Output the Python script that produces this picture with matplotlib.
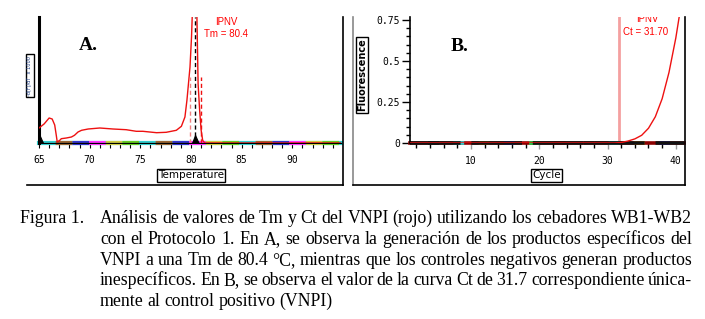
import numpy as np
import matplotlib.pyplot as plt
from matplotlib.lines import Line2D
from matplotlib.ticker import MultipleLocator, FixedLocator

W, H = 705, 319

# ---- panel A: melt curve (derivative, arbitrary units) ----
melt_temp = [65.0, 65.5, 66.0, 66.3, 66.55, 66.7, 66.8, 67.05, 67.2, 67.7, 68.2,
             68.5, 68.85, 69.2, 69.85, 71.0, 72.3, 73.6, 74.6, 75.25, 76.6, 77.55,
             78.55, 79.05, 79.4, 79.6, 79.9, 80.05, 80.2, 80.4, 80.55, 80.7, 80.85,
             81.0, 81.15, 81.35, 82.0, 94.8]
melt_ipnv = [0.15, 0.19, 0.25, 0.24, 0.18, 0.08, 0.01, 0.027, 0.043, 0.05, 0.06,
             0.077, 0.11, 0.127, 0.14, 0.15, 0.14, 0.133, 0.117, 0.117, 0.103, 0.107,
             0.127, 0.167, 0.26, 0.43, 0.76, 1.06, 1.5, 1.9, 1.45, 0.59, 0.33,
             0.127, 0.027, 0.0, 0.0, 0.0]
neg_temp = [65.0, 65.05, 65.4, 80.1, 80.4, 80.75, 94.8]
neg_deriv = [1.3, 0.08, 0.0, 0.0, 0.08, 0.0, 0.0]
tm_ipnv = 80.4
tm_lo, tm_hi = 79.86, 80.99
tm_mark = 0.66
neg_colors_a = ["#33cccc", "#66cc22", "#cccc44", "#ff33ff", "#3333cc", "#996633"]

# ---- panel B: amplification curve ----
cycles = list(range(1, 42))
ipnv_fluor = [0.0] * 31 + [0.003, 0.012, 0.025, 0.047, 0.09, 0.16, 0.27, 0.43, 0.64, 0.9]
ct_ipnv = 31.7
neg_colors_b = ["#cc0000", "#22cc44", "#3333ff", "#ff9900", "#33cccc", "#111111"]

caption_lines = [
    "Análisis de valores de Tm y Ct del VNPI (rojo) utilizando los cebadores WB1-WB2",
    "con el Protocolo 1. En A, se observa la generación de los productos específicos del",
    "VNPI a una Tm de 80.4 °C, mientras que los controles negativos generan productos",
    "inespecíficos. En B, se observa el valor de la curva Ct de 31.7 correspondiente única-",
    "mente al control positivo (VNPI)",
]

tick_font = dict(family="DejaVu Sans Mono", size=7)


def fx(px):
    return px / W


def fy(py):
    return 1 - py / H


fig = plt.figure(figsize=(W / 100, H / 100), dpi=100)

# ---------------- panel A ----------------
axA = fig.add_axes([fx(39), fy(143), fx(341 - 39), (143 - 17) / H])
axA.set_xlim(65, 94.8)
axA.set_ylim(0, 1.26)
zeros_a = np.zeros(2)
for i, c in enumerate(neg_colors_a):
    axA.plot([65, 94.8], zeros_a, color=c, lw=3, clip_on=False,
             linestyle=(i * 4, (4, 4 * (len(neg_colors_a) - 1))) if i else "-")
axA.fill_between(neg_temp, neg_deriv, color="black", lw=0.8, zorder=3)
axA.plot(melt_temp, melt_ipnv, color="#ee1111", lw=1.0, zorder=4)
axA.vlines(tm_ipnv, 0, 1.26, colors="black", linestyles=(0, (3, 2)), lw=1.0, zorder=5)
axA.vlines(tm_lo, 0, tm_mark, colors="#f08080", linestyles=(0, (3, 2)), lw=1.0, zorder=5)
axA.vlines(tm_hi, 0, tm_mark, colors="#ee1111", linestyles=(0, (3, 2)), lw=1.0, zorder=5)
fig.text(fx(226.5), fy(28), "IPNV\nTm = 80.4", ha="center", va="center", color="red",
         fontsize=7, family="Liberation Sans", linespacing=1.15)
for s in ("top", "right", "bottom"):
    axA.spines[s].set_visible(False)
axA.spines["left"].set_color("black")
axA.spines["left"].set_linewidth(2.2)
axA.xaxis.set_major_locator(MultipleLocator(5))
axA.xaxis.set_minor_locator(MultipleLocator(1))
axA.tick_params(axis="x", which="both", direction="out", length=3.6, width=0.8,
                color="black", pad=5.0)
axA.yaxis.set_major_locator(MultipleLocator(0.18))
axA.tick_params(axis="y", direction="in", length=1.5, width=0.8, color="white",
                labelleft=False)
for lab in axA.get_xticklabels():
    lab.set_fontfamily(tick_font["family"])
    lab.set_fontsize(tick_font["size"])

# ---------------- panel B ----------------
axB = fig.add_axes([fx(410), fy(143), fx(684 - 410), (143 - 17) / H])
axB.set_xlim(1.07, 41.2)
axB.set_ylim(0, 0.768)
zeros_b = np.zeros(2)
axB.plot([1.07, 41.2], zeros_b, color="#8b0000", lw=2.6, clip_on=False)
for i, c in enumerate(neg_colors_b):
    axB.plot([1.07, 41.2], zeros_b, color=c, lw=2.6, clip_on=False,
             linestyle=(i * 7 + 3, (3, 40)))
axB.plot([1.07, 41.2], zeros_b, color="#111111", lw=2.6, clip_on=False,
         linestyle=(0, (14, 3)))
axB.axvline(ct_ipnv, color="#f4a0a0", lw=2.0, zorder=1)
axB.plot(cycles, ipnv_fluor, color="#ee1111", lw=1.0, zorder=4)
axB.text(0.865, 0.985, "IPNV", transform=axB.transAxes, ha="center", va="center",
         color="red", fontsize=7, family="Liberation Sans", clip_on=True)
axB.text(fx(646), fy(31.7), "Ct = 31.70", transform=fig.transFigure, ha="center",
         va="center", color="red", fontsize=7, family="Liberation Sans")
for s in ("top", "right", "bottom"):
    axB.spines[s].set_visible(False)
axB.spines["left"].set_linewidth(1.2)
axB.yaxis.set_major_locator(FixedLocator([0, 0.25, 0.5, 0.75]))
axB.set_yticklabels(["0", "0.25", "0.5", "0.75"])
axB.yaxis.set_minor_locator(MultipleLocator(0.05))
axB.tick_params(axis="y", which="major", length=5.8, width=1, pad=1.5)
axB.tick_params(axis="y", which="minor", length=2.9, width=1)
axB.xaxis.set_major_locator(FixedLocator([10, 20, 30, 40]))
axB.xaxis.set_minor_locator(MultipleLocator(2))
axB.tick_params(axis="x", which="major", length=4.5, width=1, color="#999999",
                labelcolor="black", pad=4.8)
axB.tick_params(axis="x", which="minor", length=3.6, width=1, color="black")
for lab in axB.get_xticklabels() + axB.get_yticklabels():
    lab.set_fontfamily(tick_font["family"])
    lab.set_fontsize(tick_font["size"])

# panel letters
fig.text(fx(88), fy(50), "A.", ha="center", va="baseline", fontsize=14,
         fontweight="bold", family="Liberation Serif")
fig.text(fx(460), fy(51), "B.", ha="center", va="baseline", fontsize=14,
         fontweight="bold", family="Liberation Serif")

# axis title boxes
box = dict(boxstyle="square,pad=0.12", fc="white", ec="black", lw=1)
fig.text(fx(191), fy(175.5), "Temperature", ha="center", va="center", fontsize=7.5,
         family="DejaVu Sans", bbox=box)
fig.text(fx(546.7), fy(175.5), "Cycle", ha="center", va="center", fontsize=7.5,
         family="DejaVu Sans", bbox=box)
fig.text(fx(361.7), fy(75), "Fluorescence", ha="center", va="center", fontsize=7,
         fontweight="bold", rotation=90, family="DejaVu Sans", bbox=box)
fig.text(fx(29.8), fy(75.5), "-d(F)/dT  x 1000", ha="center", va="center",
         fontsize=3.6, rotation=90, color="#1a3a80", family="DejaVu Sans",
         bbox=dict(boxstyle="square,pad=0.3", fc="white", ec="black", lw=1))

# frames of the two panels
frame = [
    ((27, 185), (343, 185), "black"),
    ((343, 17), (343, 185), "black"),
    ((353, 17), (353, 185), "#888888"),
    ((353, 185), (685, 185), "black"),
    ((685, 17), (685, 185), "black"),
]
for (x0, y0), (x1, y1), c in frame:
    fig.add_artist(Line2D([fx(x0), fx(x1)], [fy(y0), fy(y1)],
                          transform=fig.transFigure, color=c, lw=1.2))

# caption, justified like the printed page
cap_kw = dict(family="Liberation Serif", fontsize=12.8, va="baseline", ha="left")
renderer = fig.canvas.get_renderer()
fig.text(fx(20), fy(223.3), "Figura 1.", **cap_kw)
x_left, x_right = 100, 692
for k, line in enumerate(caption_lines):
    yb = 223.3 + k * 20.7
    words = line.split(" ")
    texts = [fig.text(0, 0, w, **cap_kw) for w in words]
    widths = [t.get_window_extent(renderer).width for t in texts]
    last = k == len(caption_lines) - 1
    gap = 4.0 if last else (x_right - x_left - sum(widths)) / (len(words) - 1)
    x = x_left
    for t, w in zip(texts, widths):
        t.set_position((fx(x), fy(yb)))
        x += w + gap

fig.savefig("out.png", dpi=100)
